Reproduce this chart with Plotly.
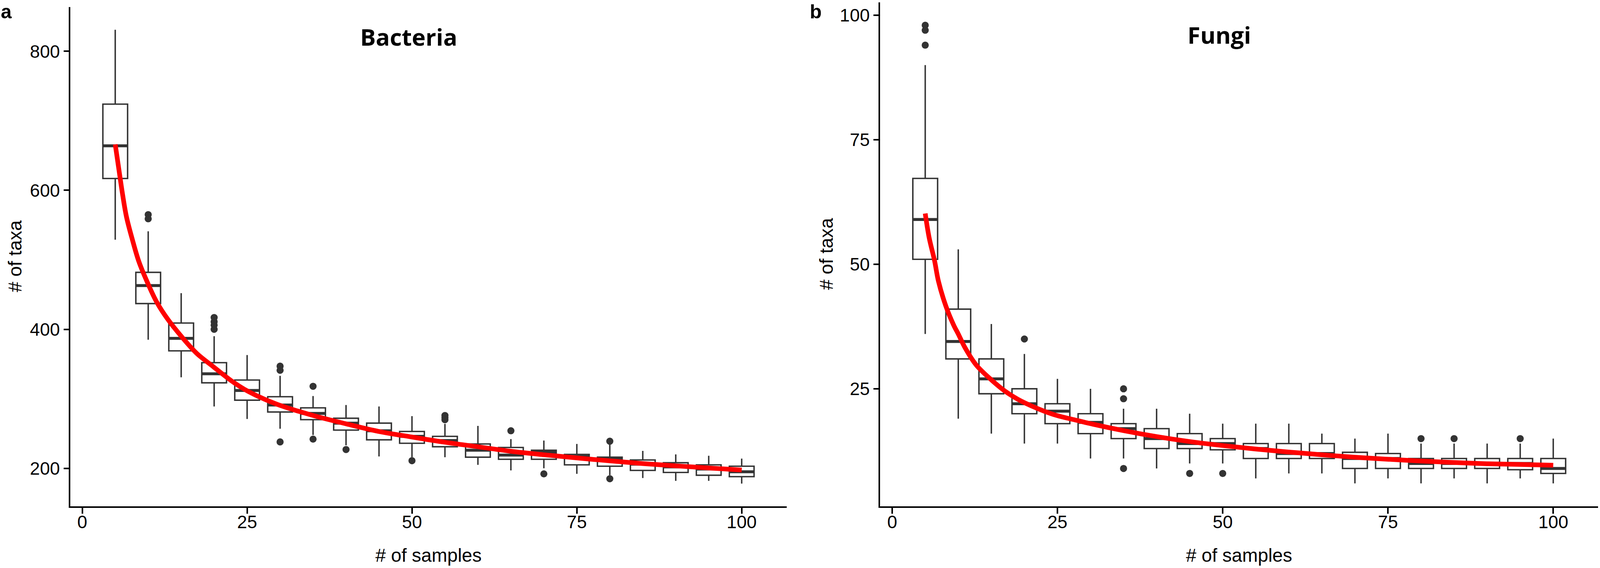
import plotly.graph_objects as go

# sample sizes (box positions), shared by both panels
n_samples = [5, 10, 15, 20, 25, 30, 35, 40, 45, 50, 55, 60, 65, 70, 75, 80, 85, 90, 95, 100]

# Bacteria box statistics (# of taxa)
bac_upper = [831, 541, 452, 390, 363, 333, 304, 291, 289, 275, 264, 261, 242, 240, 235, 234, 225, 220, 218, 214]
bac_q3 = [724, 482, 409, 352, 327, 303, 287, 272, 265, 253, 246, 235, 230, 226, 220, 216, 212, 208, 205, 203]
bac_median = [664, 463, 387, 336, 312, 291, 279, 265, 254, 246, 240, 226, 219, 223, 217, 213, 206, 202, 199, 195]
bac_q1 = [617, 437, 369, 323, 298, 281, 270, 255, 241, 236, 231, 216, 213, 213, 205, 203, 197, 194, 190, 188]
bac_lower = [529, 385, 331, 289, 271, 257, 248, 233, 217, 216, 216, 205, 197, 200, 192, 190, 186, 182, 182, 178]
bac_out_x = [10, 10, 20, 20, 20, 20, 30, 30, 30, 35, 35, 40, 50, 55, 55, 55, 65, 70, 80, 80]
bac_out_y = [565, 559, 417, 411, 406, 400, 347, 341, 238, 318, 242, 227, 211, 276, 273, 270, 254, 192, 239, 185]

# Bacteria fitted curve
bac_fit_x = [5, 5.6, 6.1, 6.7, 7.6, 8.6, 9.9, 11.3, 13, 15.1, 17.4, 19.9, 22.6, 25.1, 29.3,
             35, 40, 45, 50, 55, 60, 65, 70, 75, 80, 85, 90, 95, 100]
bac_fit_y = [666, 627, 595, 562, 529, 497, 467, 439, 414, 389, 365, 346, 326, 311, 293,
             276, 264, 253, 245, 237.5, 231, 224.5, 219.5, 215, 210.7, 206.8, 203.5, 200.5, 197.6]

# Fungi box statistics (# of taxa)
fun_upper = [90, 53, 38, 32, 27, 25, 21, 21, 20, 18, 18, 18, 16, 15, 16, 14, 14, 14, 14, 15]
fun_q3 = [67.25, 41, 31, 25, 22, 20, 18, 17, 16, 15, 14, 14, 14, 12.25, 12, 11, 11, 11, 11, 11]
fun_median = [59, 34.5, 27, 22, 20.5, 18.25, 17, 15, 14, 14, 13, 12, 12, 11, 11, 10, 10, 10, 10, 9]
fun_q1 = [51, 31, 24, 20, 18, 16, 15, 13, 13, 12.75, 11, 11, 11, 9, 9, 9, 9, 9, 8.75, 8]
fun_lower = [36, 19, 16, 14, 14, 11, 11, 9, 10, 10, 7, 8, 8, 6, 7, 6, 7, 6, 7, 6]
fun_out_x = [5, 5, 5, 20, 35, 35, 35, 45, 50, 80, 85, 95]
fun_out_y = [98, 97, 94, 35, 25, 23, 9, 8, 8, 15, 15, 15]

# Fungi fitted curve
fun_fit_x = [5, 5.6, 6.4, 7.0, 8.1, 9.3, 10, 11, 12.7, 15, 17, 19, 21, 23, 25, 27.5, 30,
             35, 40, 45, 50, 55, 60, 65, 70, 75, 80, 85, 90, 95, 100]
fun_fit_y = [60.2, 55.3, 50.8, 46.6, 41.7, 37.8, 36.0, 33.3, 29.8, 26.8, 24.6, 22.9, 21.6, 20.5, 19.6, 18.8, 18.0,
             16.6, 15.4, 14.4, 13.6, 12.9, 12.3, 11.75, 11.25, 10.85, 10.5, 10.2, 9.95, 9.8, 9.65]

# layout is given in pixels of the 4455x1455 reference and turned into paper fractions;
# the page fills the window (4096 wide), so horizontal pixel sizes shrink by KX
W, H = 4455, 1455
KX = 4096 / W
KM = (1 + KX) / 2     # for round things and text
BOX_COL = '#333333'
TXT = 'Liberation Sans, Arial, sans-serif'

fig = go.Figure()


def add_panel(xa, ya, upper, q3, med, q1, lower, ox, oy, fx, fy):
    fig.add_trace(go.Box(
        x=n_samples, q1=q1, median=med, q3=q3, lowerfence=lower, upperfence=upper,
        width=3.75, whiskerwidth=0, fillcolor='white', boxpoints=False,
        line=dict(color=BOX_COL, width=3.8 * KM), xaxis=xa, yaxis=ya, hoverinfo='skip'))
    # thick median bar like ggplot (line-ew length is 1.4 x size)
    fig.add_trace(go.Scatter(
        x=n_samples, y=med, mode='markers', xaxis=xa, yaxis=ya,
        marker=dict(symbol='line-ew', size=66 * KX / 1.4, line=dict(width=7.5, color=BOX_COL))))
    fig.add_trace(go.Scatter(
        x=ox, y=oy, mode='markers', xaxis=xa, yaxis=ya,
        marker=dict(symbol='circle', size=19 * KM, color=BOX_COL)))
    fig.add_trace(go.Scatter(
        x=fx, y=fy, mode='lines', line=dict(color='#ff0000', width=12.5 * KM, shape='spline'),
        xaxis=xa, yaxis=ya))


add_panel('x', 'y', bac_upper, bac_q3, bac_median, bac_q1, bac_lower,
          bac_out_x, bac_out_y, bac_fit_x, bac_fit_y)
add_panel('x2', 'y2', fun_upper, fun_q3, fun_median, fun_q1, fun_lower,
          fun_out_x, fun_out_y, fun_fit_x, fun_fit_y)

tick_font = dict(family=TXT, size=48 * KM, color='black')
x_style = dict(showline=True, linecolor='black', linewidth=4, ticks='outside',
               ticklen=15, tickwidth=4 * KX, tickcolor='black', showgrid=False, zeroline=False,
               tickfont=tick_font, tickvals=[0, 25, 50, 75, 100], range=[-1.8, 106.8],
               ticklabelstandoff=-18)
y_style = dict(showline=True, linecolor='black', linewidth=4 * KX, ticks='outside',
               ticklen=15 * KX, tickwidth=4, tickcolor='black', showgrid=False, zeroline=False,
               tickfont=tick_font)

bottom = 1 - 1297 / H
fig.update_layout(
    autosize=True, showlegend=False,
    margin=dict(l=0, r=0, t=0, b=0),
    plot_bgcolor='white', paper_bgcolor='white',
    xaxis=dict(domain=[196 / W, 2190 / W], anchor='y', **x_style),
    yaxis=dict(domain=[bottom, 1 - 18 / H], range=[145.3, 863.7], tickvals=[200, 400, 600, 800],
               anchor='x', **y_style),
    xaxis2=dict(domain=[2451 / W, 4450 / W], anchor='y2', **x_style),
    yaxis2=dict(domain=[bottom, 1 - 6 / H], range=[1.4, 102.6], tickvals=[25, 50, 75, 100],
                anchor='x2', **y_style),
)

ann = []
# panel titles
for xr, txt, ypx in [('x', 'Bacteria', 94), ('x2', 'Fungi', 88)]:
    ann.append(dict(x=49.5, xref=xr, y=1 - ypx / H, yref='paper', text='<b>%s</b>' % txt,
                    showarrow=False, xanchor='center', yanchor='middle',
                    font=dict(family='Open Sans, sans-serif', size=62 * KM, color='black')))
# panel letters
for xpx, txt in [(0, 'a'), (2252, 'b')]:
    ann.append(dict(x=xpx / W, xref='paper', y=1, yref='paper', text='<b>%s</b>' % txt,
                    showarrow=False, xanchor='left', yanchor='top',
                    font=dict(family=TXT, size=52 * KM, color='black')))
# axis titles
for xpx in [1193, 3450]:
    ann.append(dict(x=xpx / W, xref='paper', y=1 - 1422 / H, yref='paper', text='# of samples',
                    showarrow=False, xanchor='center', yanchor='middle',
                    font=dict(family=TXT, size=50 * KM, color='black')))
for xpx, ypx in [(42, 657), (2300, 651)]:
    ann.append(dict(x=xpx / W, xref='paper', y=1 - ypx / H, yref='paper', text='# of taxa',
                    showarrow=False, xanchor='center', yanchor='middle', textangle=-90,
                    font=dict(family=TXT, size=50 * KM, color='black')))
fig.update_layout(annotations=ann)

fig.write_html("out.html", default_width='100vw', default_height='100vh',
               config={'responsive': True, 'displayModeBar': False},
               post_script="document.body.style.margin='0';document.body.style.overflow='hidden';")
